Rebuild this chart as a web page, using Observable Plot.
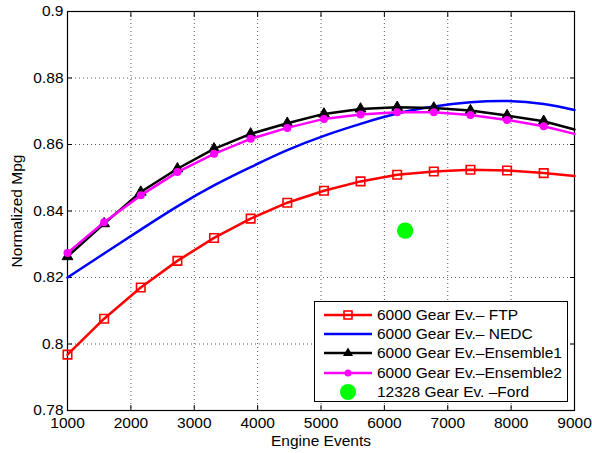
<!DOCTYPE html>
<html><head><meta charset="utf-8">
<script src="https://cdn.jsdelivr.net/npm/d3@7"></script>
<script src="https://cdn.jsdelivr.net/npm/@observablehq/plot@0.6"></script>
<style>
body{margin:0;background:#fff;}
#wrap{position:relative;width:592px;height:453px;font-family:'Liberation Sans',Arial,sans-serif;}
#legend{position:absolute;left:314px;top:301px;width:254px;height:101px;border:1px solid #000;background:#fff;box-sizing:border-box;}
.row{position:absolute;left:0;height:20px;width:250px;font-size:15.5px;white-space:nowrap;color:#000;}
.row svg{position:absolute;left:9px;top:0;}
.row span{position:absolute;left:62px;top:1px;line-height:18px;}
</style></head><body><div id="wrap"></div>
<script>
// ---- data ----
const engineEvents = [1000,1578,2156,2734,3312,3890,4468,5046,5624,6202,6780,7358,7936,8514,9000];
const markerCount = 14; // markers drawn on the first 14 samples
const ftp       = [0.7968,0.8076,0.8170,0.8250,0.8319,0.8377,0.8425,0.8461,0.8489,0.8509,0.8519,0.8524,0.8522,0.8514,0.8505];
const nedc      = [0.8200,0.8272,0.8344,0.8414,0.8477,0.8532,0.8583,0.8626,0.8662,0.8693,0.8714,0.8727,0.8731,0.8722,0.8704];
const ensemble1 = [0.8263,0.8362,0.8457,0.8527,0.8587,0.8632,0.8664,0.8692,0.8707,0.8712,0.8710,0.8702,0.8687,0.8670,0.8645];
const ensemble2 = [0.8274,0.8366,0.8447,0.8517,0.8572,0.8617,0.8650,0.8677,0.8690,0.8697,0.8697,0.8689,0.8674,0.8655,0.8632];
const fordX = [6328];
const fordY = [0.8341];
const xTicks = [1000,2000,3000,4000,5000,6000,7000,8000,9000];
const yTicks = [0.78,0.8,0.82,0.84,0.86,0.88,0.9];
const yTickLabels = ["0.78","0.8","0.82","0.84","0.86","0.88","0.9"];
const legendLabels = ["6000 Gear Ev.\u2013 FTP","6000 Gear Ev.\u2013 NEDC","6000 Gear Ev.\u2013Ensemble1","6000 Gear Ev.\u2013Ensemble2","12328 Gear Ev. \u2013Ford"];
const colors = ["#ff0000","#0000ff","#000000","#ff00ff","#00ff00"];

const mk = ys => engineEvents.map((x,i)=>({x, y: ys[i]}));
const sFtp = mk(ftp), sNedc = mk(nedc), sE1 = mk(ensemble1), sE2 = mk(ensemble2);
const ford = fordX.map((x,i)=>({x, y: fordY[i]}));
const lw = 2.5;

const chart = Plot.plot({
  width: 592, height: 453,
  marginLeft: 67, marginRight: 18, marginTop: 11, marginBottom: 43,
  style: {fontFamily: "'Liberation Sans', Arial, sans-serif", fontSize: "15.5px", background: "#fff", color: "#000"},
  x: {domain: [1000, 9000]},
  y: {domain: [0.78, 0.9]},
  marks: [
    Plot.gridX(xTicks, {stroke: "#333", strokeOpacity: 0.8, strokeDasharray: "1,3"}),
    Plot.gridY(yTicks, {stroke: "#333", strokeOpacity: 0.8, strokeDasharray: "1,3"}),
    Plot.axisX(xTicks, {anchor: "bottom", tickSize: 0, tickPadding: 6, tickFormat: d => String(d), label: "Engine Events", labelArrow: "none", labelAnchor: "center", labelOffset: 35}),
    Plot.axisY(yTicks, {anchor: "left", tickSize: 0, tickPadding: 4, tickFormat: d => yTickLabels[yTicks.indexOf(d)], label: "Normalized Mpg", labelArrow: "none", labelAnchor: "center", labelOffset: 57}),
    Plot.axisX(xTicks, {anchor: "bottom", tickSize: 5, dy: -5, tickFormat: () => "", label: null}),
    Plot.axisX(xTicks, {anchor: "top", tickSize: 5, dy: 5, tickFormat: () => "", label: null}),
    Plot.axisY(yTicks, {anchor: "left", tickSize: 5, dx: 5, tickFormat: () => "", label: null}),
    Plot.axisY(yTicks, {anchor: "right", tickSize: 5, dx: -5, tickFormat: () => "", label: null}),
    Plot.frame({stroke: "#000", strokeWidth: 1.2}),
    Plot.line(sFtp, {x: "x", y: "y", stroke: colors[0], strokeWidth: lw}),
    Plot.dot(sFtp.slice(0, markerCount), {x: "x", y: "y", symbol: "square", r: 4.8, stroke: colors[0], strokeWidth: 1.6, fill: "none"}),
    Plot.line(sNedc, {x: "x", y: "y", stroke: colors[1], strokeWidth: lw, curve: "natural"}),
    Plot.line(sE1, {x: "x", y: "y", stroke: colors[2], strokeWidth: lw}),
    Plot.dot(sE1.slice(0, markerCount), {x: "x", y: "y", symbol: "triangle", r: 4, fill: colors[2], stroke: colors[2], strokeWidth: 1}),
    Plot.line(sE2, {x: "x", y: "y", stroke: colors[3], strokeWidth: lw}),
    Plot.dot(sE2.slice(0, markerCount), {x: "x", y: "y", symbol: "circle", r: 4, fill: colors[3]}),
    Plot.dot(ford, {x: "x", y: "y", r: 8.2, fill: colors[4]})
  ]
});

const wrap = document.getElementById("wrap");
wrap.appendChild(chart);

// legend (inside the axes, as in the reference)
const leg = document.createElement("div");
leg.id = "legend";
const sampleSvg = i => {
  const c = colors[i];
  let m = "";
  if (i === 0) m = `<rect x="20" y="6" width="8" height="8" fill="none" stroke="${c}" stroke-width="1.6"/>`;
  if (i === 2) m = `<path d="M24,4.5 L29,13 L19,13 Z" fill="${c}"/>`;
  if (i === 3) m = `<circle cx="24" cy="10" r="3.5" fill="${c}"/>`;
  if (i === 4) return `<svg width="48" height="20"><circle cx="24" cy="10" r="8" fill="${c}"/></svg>`;
  return `<svg width="48" height="20"><line x1="0" x2="48" y1="10" y2="10" stroke="${c}" stroke-width="${lw}"/>${m}</svg>`;
};
legendLabels.forEach((t, i) => {
  const r = document.createElement("div");
  r.className = "row";
  r.style.top = (3 + i * 19.2) + "px";
  r.innerHTML = sampleSvg(i) + `<span>${t}</span>`;
  leg.appendChild(r);
});
wrap.appendChild(leg);
</script></body></html>
